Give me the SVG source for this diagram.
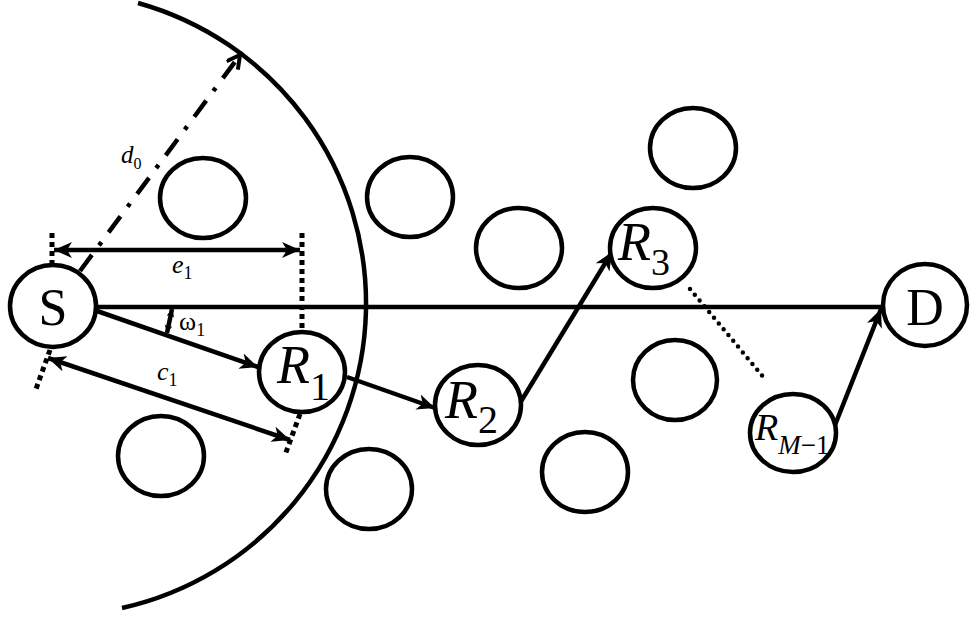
<svg xmlns="http://www.w3.org/2000/svg" width="972" height="617" viewBox="0 0 972 617">
<defs>
<style>
.nd{fill:#fff;stroke:#000;stroke-width:4.5}
.ob{fill:none;stroke:#000;stroke-width:4.5}
.ln{fill:none;stroke:#000;stroke-width:4.5}
.arw{marker-end:url(#ah)}
.dbl{marker-start:url(#ah);marker-end:url(#ah)}
.sq{fill:none;stroke:#000;stroke-width:5;stroke-dasharray:5 4}
.rd{fill:none;stroke:#000;stroke-width:4.5;stroke-linecap:round;stroke-dasharray:0 7.5}
.big{font-family:'Liberation Serif','Times New Roman',serif;fill:#000}
.it{font-style:italic}
</style>
<marker id="ah" markerUnits="userSpaceOnUse" markerWidth="22" markerHeight="18" refX="18" refY="8" orient="auto-start-reverse"><path d="M0,0 L18,8 L0,16 L5,8 z" fill="#000"/></marker>
<marker id="sm" markerUnits="userSpaceOnUse" markerWidth="10" markerHeight="10" refX="8" refY="4" orient="auto-start-reverse"><path d="M0,0 L8,4 L0,8 L2,4 z" fill="#000"/></marker>
<marker id="op" markerUnits="userSpaceOnUse" markerWidth="20" markerHeight="20" refX="14" refY="8" orient="auto"><path d="M1,1 L14,8 L1,15" fill="none" stroke="#000" stroke-width="4"/></marker>
</defs>

<g id="range-arc">
<path class="ln" d="M138,3 A312,312 0 0 1 122,608"/>
</g>

<g id="connectors">
<line class="ln" x1="97" y1="307" x2="882" y2="307"/>
<line class="ln" x1="80" y1="271" x2="240" y2="55" stroke-dasharray="20 12 4 12" marker-end="url(#op)"/>
<line class="sq" x1="52" y1="233" x2="52" y2="265"/>
<line class="sq" x1="302" y1="233" x2="302" y2="331"/>
<line class="ln dbl" x1="54" y1="250" x2="300" y2="250"/>
<line class="sq" x1="50" y1="350" x2="36" y2="389"/>
<line class="sq" x1="300" y1="414" x2="285" y2="455"/>
<line class="ln dbl" x1="48" y1="358" x2="290" y2="440"/>
<line class="ln" x1="172" y1="309" x2="167" y2="333" stroke-width="2" marker-start="url(#sm)" marker-end="url(#sm)"/>
<line class="ln arw" x1="97" y1="311" x2="258" y2="367"/>
<line class="ln arw" x1="347" y1="377" x2="435" y2="408"/>
<line class="ln arw" x1="520" y1="403" x2="612" y2="252"/>
<line class="rd" x1="690" y1="289" x2="765" y2="379"/>
<line class="ln arw" x1="835" y1="425" x2="881" y2="309"/>
</g>

<g id="obstacles">
<ellipse id="o1" class="ob" cx="203" cy="198" rx="43" ry="40"/>
<ellipse id="o2" class="ob" cx="410" cy="197" rx="43" ry="40"/>
<ellipse id="o3" class="ob" cx="519" cy="248" rx="43" ry="40"/>
<ellipse id="o4" class="ob" cx="693" cy="148" rx="43" ry="40"/>
<ellipse id="o5" class="ob" cx="675" cy="380" rx="42" ry="40"/>
<ellipse id="o6" class="ob" cx="161" cy="456" rx="43" ry="40"/>
<ellipse id="o7" class="ob" cx="369" cy="489" rx="43" ry="40"/>
<ellipse id="o8" class="ob" cx="585" cy="472" rx="43" ry="40"/>
</g>

<g id="S">
<ellipse class="nd" cx="53" cy="306" rx="43" ry="41"/>
<text class="big" font-family="Liberation Serif, serif" x="53" y="325" font-size="52" text-anchor="middle">S</text>
</g>
<g id="D">
<ellipse class="nd" cx="925" cy="305" rx="42" ry="41"/>
<text class="big" font-family="Liberation Serif, serif" x="925" y="325" font-size="52" text-anchor="middle">D</text>
</g>
<g id="R1">
<ellipse class="nd" cx="302" cy="372" rx="43" ry="40"/>
<text class="big" font-family="Liberation Serif, serif" x="277" y="383" font-size="54"><tspan class="it">R</tspan><tspan font-size="40" dy="17">1</tspan></text>
</g>
<g id="R2">
<ellipse class="nd" cx="478" cy="405" rx="43" ry="40"/>
<text class="big" font-family="Liberation Serif, serif" x="445" y="418" font-size="54"><tspan class="it">R</tspan><tspan font-size="40" dy="15">2</tspan></text>
</g>
<g id="R3">
<ellipse class="nd" cx="653" cy="248" rx="43" ry="40"/>
<text class="big" font-family="Liberation Serif, serif" x="618" y="260" font-size="54"><tspan class="it">R</tspan><tspan font-size="38" dy="15">3</tspan></text>
</g>
<g id="RM1">
<ellipse class="nd" cx="793" cy="433" rx="43" ry="39"/>
<text class="big" font-family="Liberation Serif, serif" x="755" y="440" font-size="38"><tspan class="it">R</tspan><tspan font-size="27" dy="14"><tspan class="it">M</tspan>−1</tspan></text>
</g>

<g id="labels">
<text class="big" font-family="Liberation Serif, serif" x="121" y="163" font-size="25"><tspan class="it">d</tspan><tspan font-size="16" dy="6">0</tspan></text>
<text class="big" font-family="Liberation Serif, serif" x="172" y="273" font-size="26"><tspan class="it">e</tspan><tspan font-size="18" dy="6">1</tspan></text>
<text class="big" font-family="Liberation Serif, serif" x="179" y="330" font-size="26">ω<tspan font-size="18" dy="6">1</tspan></text>
<text class="big" font-family="Liberation Serif, serif" x="157" y="380" font-size="26"><tspan class="it">c</tspan><tspan font-size="18" dy="6">1</tspan></text>
</g>
</svg>
